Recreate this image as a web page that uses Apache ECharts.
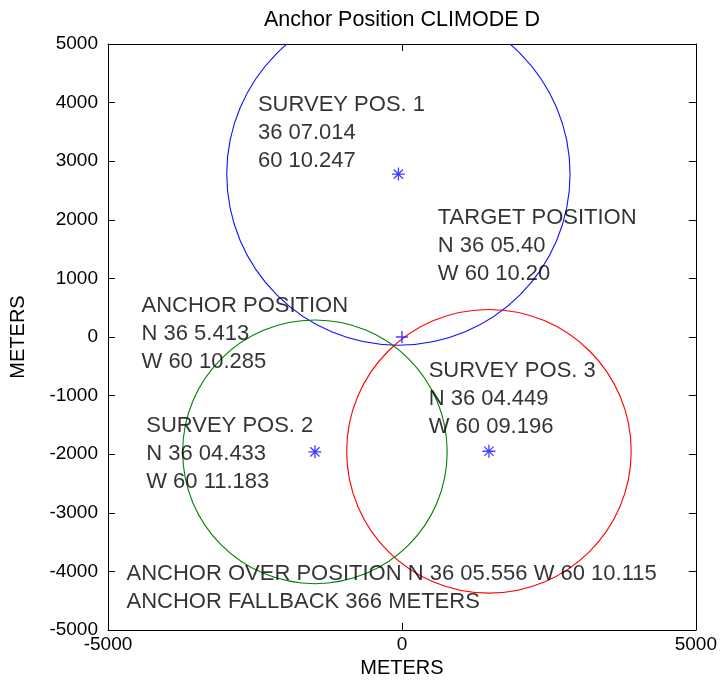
<!DOCTYPE html>
<html>
<head>
<meta charset="utf-8">
<script src="https://cdn.jsdelivr.net/npm/echarts@6/dist/echarts.min.js"></script>
<style>html,body{margin:0;padding:0;background:#fff;}#c{width:720px;height:690px;}</style>
</head>
<body>
<div id="c"></div>
<script>
// ---- data ----
const titleText = 'Anchor Position CLIMODE D';
const xTicks = [-5000, 0, 5000];
const yTicks = [-5000, -4000, -3000, -2000, -1000, 0, 1000, 2000, 3000, 4000, 5000];
const surveyNames = ['SURVEY POS. 1', 'SURVEY POS. 2', 'SURVEY POS. 3'];
const surveyX = [-60, -1480, 1480];
const surveyY = [2780, -1960, -1950];
const surveyRadius = [2920, 2250, 2420];
const surveyColors = ['#1010ff', '#008000', '#ff0000'];
const targetPoint = [0, 0];
const annotationText = [
  'SURVEY POS. 1\n36 07.014\n60 10.247',
  'TARGET POSITION\nN 36 05.40\nW 60 10.20',
  'ANCHOR POSITION\nN 36 5.413\nW 60 10.285',
  'SURVEY POS. 3\nN 36 04.449\nW 60 09.196',
  'SURVEY POS. 2\nN 36 04.433\nW 60 11.183',
  'ANCHOR OVER POSITION N 36 05.556 W 60 10.115\nANCHOR FALLBACK 366 METERS'
];
const annotationX = [-2450, 610, -4430, 455, -4350, -4685];
const annotationY = [3480, 1560, 60, -1050, -1990, -4280];

// ---- chart ----
const FONT = '"Liberation Sans", Arial, sans-serif';
const chart = echarts.init(document.getElementById('c'), null, {renderer: 'canvas'});

const asterisk = 'path://M9 0H11V20H9Z M0 9H20V11H0Z M2.2 3.6L3.6 2.2L17.8 16.4L16.4 17.8Z M16.4 2.2L17.8 3.6L3.6 17.8L2.2 16.4Z';
const plus = 'path://M8.8 0H11.2V20H8.8Z M0 8.8H20V11.2H0Z';

const circleData = surveyX.map((x, i) => ({value: [x, surveyY[i], surveyRadius[i]], itemStyle: {color: surveyColors[i]}}));

const axisCommon = {
  min: -5000, max: 5000,
  axisLine: {show: true, onZero: false, lineStyle: {color: '#000', width: 1}},
  axisTick: {show: true, inside: true, length: 7, lineStyle: {color: '#000'}},
  splitLine: {show: false}
};
const plainNum = v => String(v);

chart.setOption({
  backgroundColor: '#fff',
  animation: false,
  title: {
    text: titleText, left: 397, top: 4, textAlign: 'center',
    textStyle: {fontFamily: FONT, fontSize: 21.5, fontWeight: 'normal', color: '#000'}
  },
  grid: {left: 108, right: 23, top: 44, bottom: 60, containLabel: false},
  xAxis: [
    Object.assign({}, axisCommon, {
      type: 'value', position: 'bottom', interval: 5000,
      name: 'METERS', nameLocation: 'middle', nameGap: 27,
      nameTextStyle: {fontFamily: FONT, fontSize: 20, color: '#000'},
      axisLabel: {show: true, margin: 5, color: '#000', fontFamily: FONT, fontSize: 19, formatter: plainNum, showMinLabel: true, showMaxLabel: true}
    }),
    Object.assign({}, axisCommon, {
      type: 'value', position: 'top', interval: 5000, axisLabel: {show: false}
    })
  ],
  yAxis: [
    Object.assign({}, axisCommon, {
      type: 'value', position: 'left', interval: 1000,
      name: 'METERS', nameLocation: 'middle', nameGap: 80, nameRotate: 90,
      nameTextStyle: {fontFamily: FONT, fontSize: 20, color: '#000'},
      axisLabel: {show: true, margin: 10, color: '#000', fontFamily: FONT, fontSize: 19, formatter: plainNum, showMinLabel: true, showMaxLabel: true}
    }),
    Object.assign({}, axisCommon, {
      type: 'value', position: 'right', interval: 1000, axisLabel: {show: false}
    })
  ],
  series: [
    {
      type: 'custom',
      clip: true,
      z: 2,
      data: circleData,
      renderItem: function (params, api) {
        const c = api.coord([api.value(0), api.value(1)]);
        const s = api.size([api.value(2), api.value(2)]);
        return {
          type: 'ellipse',
          shape: {cx: c[0], cy: c[1], rx: s[0], ry: s[1]},
          style: {fill: 'none', stroke: api.visual('color'), lineWidth: 1.1}
        };
      }
    },
    {
      type: 'scatter', z: 3,
      symbol: asterisk, symbolSize: 13,
      itemStyle: {color: '#1010ff'},
      data: surveyX.map((x, i) => [x, surveyY[i]])
    },
    {
      type: 'scatter', z: 3,
      symbol: plus, symbolSize: 12,
      itemStyle: {color: '#1010ff'},
      data: [targetPoint]
    },
    {
      type: 'scatter', z: 5,
      symbolSize: 0, silent: true,
      data: annotationX.map((x, i) => ({value: [x, annotationY[i]], label: {formatter: annotationText[i]}})),
      label: {
        show: true, position: [0, 0], align: 'left', verticalAlign: 'middle',
        fontFamily: FONT, fontSize: 22, lineHeight: 28, color: '#000'
      }
    }
  ]
});
</script>
</body>
</html>
